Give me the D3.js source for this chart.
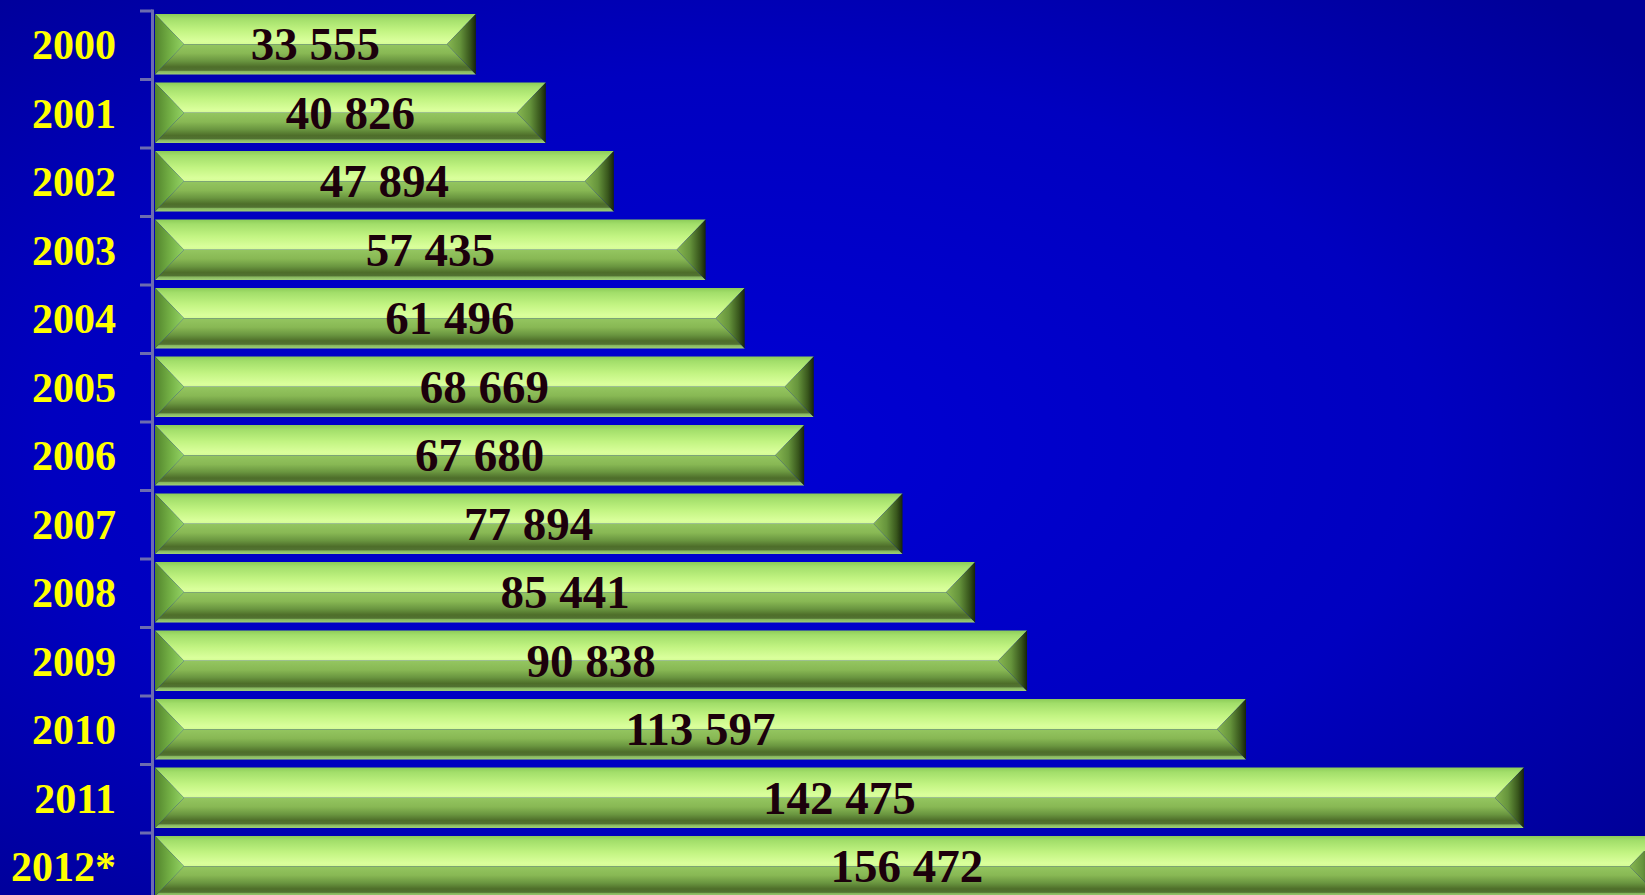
<!DOCTYPE html>
<html>
<head>
<meta charset="utf-8">
<script src="https://cdn.jsdelivr.net/npm/d3@7"></script>
<style>
  html, body { margin: 0; padding: 0; background: #0000a8; overflow: hidden; }
  svg { display: block; }
</style>
</head>
<body>
<svg id="chart" width="1645" height="895"></svg>
<script>
// Yearly totals
const years  = ["2000","2001","2002","2003","2004","2005","2006","2007","2008","2009","2010","2011","2012*"];
const values = [33555, 40826, 47894, 57435, 61496, 68669, 67680, 77894, 85441, 90838, 113597, 142475, 156472];
const valueLabels = ["33 555","40 826","47 894","57 435","61 496","68 669","67 680","77 894","85 441","90 838","113 597","142 475","156 472"];

const W = 1645, H = 895;
const svg = d3.select("#chart");
const defs = svg.append("defs");

// background: soft radial glow
const bg = defs.append("radialGradient").attr("id", "bg")
  .attr("cx", "45%").attr("cy", "50%").attr("r", "70%");
bg.append("stop").attr("offset", "0%").attr("stop-color", "#0000d4");
bg.append("stop").attr("offset", "60%").attr("stop-color", "#0000c0");
bg.append("stop").attr("offset", "100%").attr("stop-color", "#000098");
svg.append("rect").attr("width", W).attr("height", H).attr("fill", "url(#bg)");

// bevel gradients
function linGrad(id, x1, y1, x2, y2, stops) {
  const g = defs.append("linearGradient").attr("id", id)
    .attr("x1", x1).attr("y1", y1).attr("x2", x2).attr("y2", y2);
  stops.forEach(([o, c]) => g.append("stop").attr("offset", o).attr("stop-color", c));
}
linGrad("gTop", 0, 0, 0, 1, [[0, "#8ccc58"], [0.15, "#a2de6a"], [0.55, "#c2f482"], [0.9, "#daff9c"], [1, "#d4fc94"]]);
linGrad("gBot", 0, 0, 0, 1, [[0, "#94c660"], [0.3, "#88b854"], [0.55, "#6a9640"], [0.75, "#4e6e2a"], [0.86, "#527232"], [0.9, "#86b65e"], [1, "#a0d076"]]);
linGrad("gLeft", 0, 0, 1, 0, [[0, "#52842c"], [0.5, "#72ae44"], [1, "#94d464"]]);
linGrad("gRight", 0, 0, 1, 0, [[0, "#88b852"], [0.45, "#66943c"], [0.8, "#38561c"], [1, "#16240a"]]);

// scales
const x = d3.scaleLinear().domain([0, 150000]).range([153, 153 + 150000 * 0.009622]);
const y = d3.scaleBand().domain(years).range([11, 11 + 13 * 68.5]).paddingInner(0).paddingOuter(0);

const barTopOff = 3, barH = 60.5;
const bars = svg.append("g").selectAll("g").data(years).join("g");

bars.each(function (yr, i) {
  const g = d3.select(this);
  const x0 = x(0) + 2, x1 = x(values[i]);
  const y0 = y(yr) + barTopOff, y1 = y0 + barH, ym = y0 + barH / 2;
  const d = 29;
  const pts = a => a.map(p => p.join(",")).join(" ");
  g.append("polygon").attr("points", pts([[x0, y0], [x1, y0], [x1 - d, ym], [x0 + d, ym]])).attr("fill", "url(#gTop)");
  g.append("polygon").attr("points", pts([[x0 + d, ym], [x1 - d, ym], [x1, y1], [x0, y1]])).attr("fill", "url(#gBot)");
  g.append("polygon").attr("points", pts([[x0, y0], [x0 + d, ym], [x0, y1]])).attr("fill", "url(#gLeft)");
  g.append("polygon").attr("points", pts([[x1, y0], [x1 - d, ym], [x1, y1]])).attr("fill", "url(#gRight)");
});

// value labels centred on each bar
svg.append("g").selectAll("text").data(years).join("text")
  .attr("x", (yr, i) => (x(0) + 2 + x(values[i])) / 2)
  .attr("y", yr => y(yr) + y.bandwidth() / 2 + 15)
  .attr("text-anchor", "middle")
  .attr("font-family", "'Liberation Serif', 'Times New Roman', serif")
  .attr("font-weight", "bold")
  .attr("font-size", 47)
  .attr("fill", "#1c000c")
  .text((yr, i) => valueLabels[i]);

// category axis: line with ticks on band boundaries
const axis = svg.append("g").attr("stroke", "#6c6cb0").attr("stroke-width", 3);
axis.append("line").attr("x1", 152.5).attr("x2", 152.5).attr("y1", 9.5).attr("y2", H);
axis.selectAll("line.tick").data(years).join("line").attr("class", "tick")
  .attr("x1", 140).attr("x2", 152.5)
  .attr("y1", yr => y(yr)).attr("y2", yr => y(yr));

// year labels
svg.append("g").selectAll("text").data(years).join("text")
  .attr("x", 116)
  .attr("y", yr => y(yr) + y.bandwidth() / 2 + 14)
  .attr("text-anchor", "end")
  .attr("font-family", "'Liberation Serif', 'Times New Roman', serif")
  .attr("font-weight", "bold")
  .attr("font-size", 42)
  .attr("fill", "#ffff00")
  .text(yr => yr);
</script>
</body>
</html>
